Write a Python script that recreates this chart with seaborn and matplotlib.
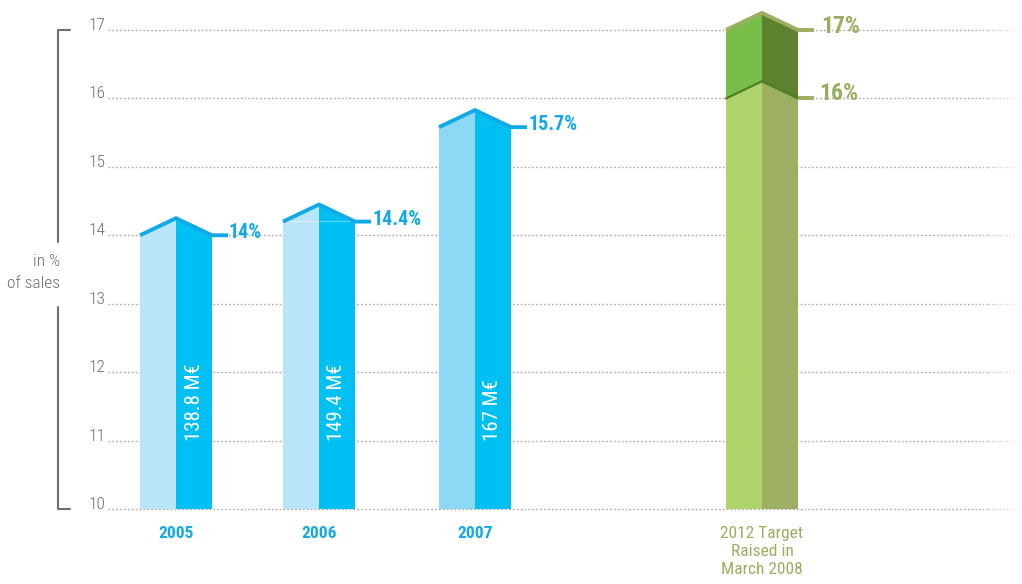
import numpy as np
import pandas as pd
import matplotlib
matplotlib.use("Agg")
import matplotlib.pyplot as plt
import seaborn as sns
from matplotlib.patches import Polygon

# ---------------- data ----------------
categories = ["2005", "2006", "2007", "2012 Target\nRaised in\nMarch 2008"]
bar_tops = [14.0, 14.2, 15.58, 17.0]        # drawn heights (in % of sales)
target_lower = 16.0                          # lower end of the 2012 target range
pct_labels = ["14%", "14.4%", "15.7%", "17%"]
lower_label = "16%"
amount_labels = ["138.8 M€", "149.4 M€", "167 M€"]
yticks = [10, 11, 12, 13, 14, 15, 16, 17]

# ---------------- layout / style ----------------
centers = [176, 319, 475, 762]
face = 36
roof = 0.25
left_colors = ["#b9e5f9", "#b9e5f9", "#8dd8f5", "#78bf4a"]
right_colors = ["#00bff3", "#00bff3", "#00bff3", "#5c8230"]
outline_colors = ["#12a9e6", "#12a9e6", "#12a9e6", "#9caf62"]
label_colors = ["#12a9e6", "#12a9e6", "#12a9e6", "#9aae5f"]
low_left, low_right = "#b0d46c", "#9caf62"
divider = "#4f7d28"
gray = "#6d6e71"
fam = ["Roboto Condensed", "Roboto", "DejaVu Sans"]

sns.set_theme(style="white")
plt.rcParams["font.family"] = fam

W, H = 1022, 584
fig = plt.figure(figsize=(W / 100, H / 100), dpi=100)
ax = fig.add_axes([108 / W, (H - 509) / H, (W - 108) / W, 479 / H])
ax.set_xlim(108, W)
ax.set_ylim(10, 17)

# gridlines (dotted, fading at right)
fade_start = 975
ax.hlines(yticks, 108, fade_start, colors="#a9a9a9", linestyles=(0, (1.2, 1.6)),
          linewidth=1.0, zorder=0, clip_on=False)
steps = np.linspace(fade_start, W, 8)
for k in range(len(steps) - 1):
    ax.hlines(yticks, steps[k], steps[k + 1], colors="#a9a9a9",
              linestyles=(0, (1.2, 1.6)), linewidth=1.0,
              alpha=1 - (k + 1) / len(steps), zorder=0, clip_on=False)

# bar faces via seaborn (native numeric positions)
spacing = min(np.diff(sorted(centers)))
df_left = pd.DataFrame({"x": [c - face / 2 for c in centers], "v": bar_tops, "cat": categories})
df_right = pd.DataFrame({"x": [c + face / 2 for c in centers], "v": bar_tops, "cat": categories})
sns.barplot(data=df_left, x="x", y="v", hue="cat", palette=left_colors, native_scale=True,
            width=face / spacing, dodge=False, saturation=1, errorbar=None, legend=False,
            linewidth=0, ax=ax, zorder=2)
sns.barplot(data=df_right, x="x", y="v", hue="cat", palette=right_colors, native_scale=True,
            width=face / spacing, dodge=False, saturation=1, errorbar=None, legend=False,
            linewidth=0, ax=ax, zorder=2)

# roofs and label leaders
for c, v, lc, rc, oc, tc, lab in zip(centers, bar_tops, left_colors, right_colors,
                                      outline_colors, label_colors, pct_labels):
    ax.add_patch(Polygon([(c - face, v), (c, v + roof), (c, v)], closed=True,
                         facecolor=lc, edgecolor="none", zorder=3, clip_on=False))
    ax.add_patch(Polygon([(c, v), (c, v + roof), (c + face, v)], closed=True,
                         facecolor=rc, edgecolor="none", zorder=3, clip_on=False))
    ax.plot([c - face, c, c + face, c + face + 16], [v, v + roof, v, v], color=oc,
            lw=2.8, solid_joinstyle="miter", solid_capstyle="butt", zorder=5, clip_on=False)
    big = c == centers[-1]
    ax.text(c + face + (23 if big else 17), v - 0.045, lab, color=tc,
            fontsize=17 if big else 14.5,
            fontweight="bold", ha="left", va="baseline", zorder=6, clip_on=False)

# lower part of the 2012 target range
c = centers[-1]
ax.bar([c - face / 2], [target_lower], width=face, color=low_left, linewidth=0, zorder=4)
ax.bar([c + face / 2], [target_lower], width=face, color=low_right, linewidth=0, zorder=4)
ax.add_patch(Polygon([(c - face, target_lower), (c, target_lower + roof), (c, target_lower)],
                     facecolor=low_left, edgecolor="none", zorder=4))
ax.add_patch(Polygon([(c, target_lower), (c, target_lower + roof), (c + face, target_lower)],
                     facecolor=low_right, edgecolor="none", zorder=4))
ax.plot([c - face, c, c + face], [target_lower, target_lower + roof, target_lower],
        color=divider, lw=1.6, solid_joinstyle="miter", zorder=5)
ax.plot([c + face, c + face + 16], [target_lower, target_lower], color=low_right,
        lw=2.8, solid_capstyle="butt", zorder=5)
ax.text(c + face + 21, target_lower - 0.03, lower_label, color=label_colors[-1],
        fontsize=17, fontweight="bold", ha="left", va="baseline", zorder=6)

# amounts inside the bars
for c, txt in zip(centers[:3], amount_labels):
    ax.text(c + face / 2, 11.0, txt, rotation=90, color="white", fontsize=15,
            ha="center", va="bottom", zorder=6)

# axes styling
for s in ax.spines.values():
    s.set_visible(False)
ax.set_yticks(yticks)
ax.set_yticklabels([str(t) for t in yticks])
ax.set_xticks(centers)
ax.set_xticklabels(categories)
ax.set_xlabel("")
ax.set_ylabel("")
ax.tick_params(axis="y", length=0, pad=2, labelsize=12.5, labelcolor=gray)
ax.tick_params(axis="x", length=0, pad=12, labelsize=12.5)
for lbl in ax.get_yticklabels():
    lbl.set_verticalalignment("baseline")
    lbl.set_fontweight("light")
for lbl, col in zip(ax.get_xticklabels(), label_colors):
    lbl.set_color(col)
    lbl.set_linespacing(1.25)
    lbl.set_fontweight("semibold" if col != label_colors[-1] else "normal")

# left bracket with axis caption
bx = 58
top_gap, bot_gap = 13.9, 12.95
ax.plot([bx + 12, bx, bx], [17, 17, top_gap], color=gray, lw=1.5, clip_on=False)
ax.plot([bx, bx, bx + 12], [bot_gap, 10, 10], color=gray, lw=1.5, clip_on=False)
ax.text(bx + 2, 13.62, "in %", color=gray, fontsize=12.5, fontweight="light",
        ha="right", va="center", clip_on=False)
ax.text(bx + 2, 13.30, "of sales", color=gray, fontsize=12.5, fontweight="light",
        ha="right", va="center", clip_on=False)

fig.savefig("out.png", dpi=100)
